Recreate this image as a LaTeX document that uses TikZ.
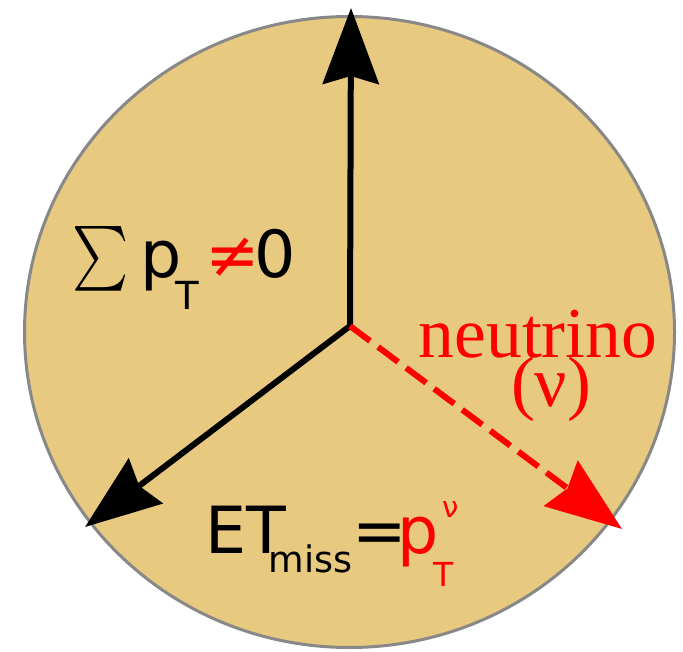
\documentclass[tikz,border=0pt]{standalone}
\usepackage{fontspec}
\setmainfont{DejaVu Sans}
\newfontfamily\nufont{Liberation Serif}
\usepackage{exscale}
\usetikzlibrary{arrows.meta}

\definecolor{disque}{RGB}{232,201,128}
\definecolor{bord}{RGB}{136,136,136}

\tikzset{
  pointe/.tip={Stealth[length=1.52cm,width=1.12cm,inset=0.16cm]},
  vecteur/.style={line width=0.12cm},
  texte/.style={anchor=base west,inner sep=0pt,font=\fontsize{37}{37}\selectfont},
  texte nu/.style={anchor=base,inner sep=0pt,text=red,font=\nufont\fontsize{40.7}{40.7}\selectfont}
}

\begin{document}
\begin{tikzpicture}
\useasboundingbox (0,0) rectangle (13.66,13.02);

% Disque
\draw[bord,fill=disque,line width=0.06cm]
(6.99,6.38)
ellipse [x radius=6.50,y radius=6.31];

\coordinate (origine) at (7.0,6.5);
\coordinate (haut) at (7.02,12.86);
\coordinate (gauche) at (1.70,2.48);
\coordinate (fin nu) at (12.44,2.44);

% Vecteurs visibles
\draw[vecteur,pointe-pointe]
(haut)
--
(origine)
--
(gauche);

% Neutrino
\draw[vecteur,red,dash pattern=on 0.5cm off 0.2cm,-pointe]
(origine)
--
(fin nu);

\node[texte] (somme)
at (1.44,7.46)
{\raisebox{0.06cm}{\scalebox{1.22}[1.48]{$\textstyle\sum$}}\kern0.24cm p\kern-0.12cm\raisebox{-0.64cm}{\fontsize{22}{22}\selectfont T}\kern0.12cm\textcolor{red}{≠}\kern-0.11cm 0};

\node[texte] (manquant)
at (4.11,1.96)
{ET\kern-0.36cm\raisebox{-0.38cm}{\fontsize{20.8}{20.8}\selectfont miss}=\kern-0.18cm\textcolor{red}{p\kern0.06cm\raisebox{0.70cm}{\fontsize{16.6}{16.6}\selectfont ν}\kern-0.5cm\raisebox{-0.68cm}{\fontsize{18.8}{18.8}\selectfont T}}};

\node[texte nu] (nom nu)
at (10.76,5.86)
{neutrino};

\node[texte nu] (symbole nu)
at (11.02,4.88)
{(ν)};

\end{tikzpicture}
\end{document}
